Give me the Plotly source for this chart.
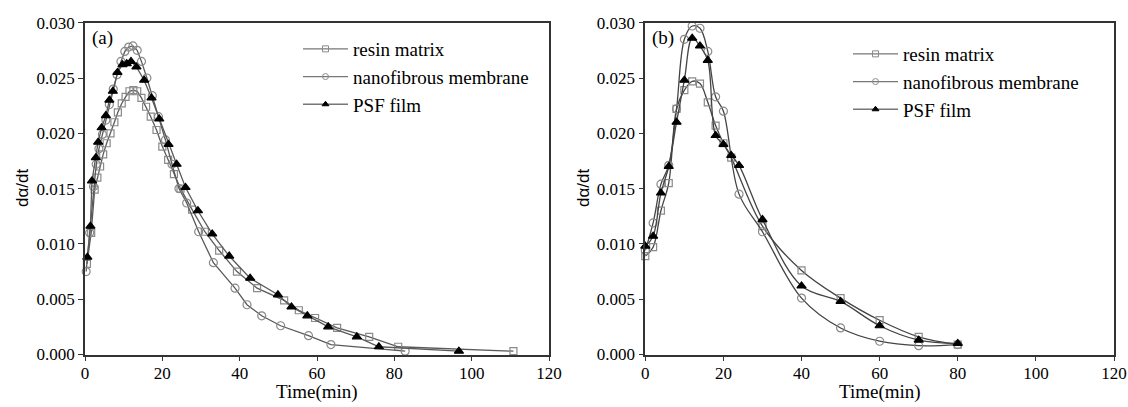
import plotly.graph_objects as go

# ---------------- data : panel (a) ----------------
a_resin_t = [0.5, 1.6, 2.5, 3.2, 3.9, 4.7, 5.6, 6.6, 7.6, 8.5, 9.5, 10.5, 11.5, 12.5, 13.5, 14.6,
             15.8, 17.0, 18.5, 20.0, 21.5, 23.0, 24.7, 27.7, 31.0, 34.7, 39.3, 44.5, 51.5, 55.3,
             59.5, 65.2, 73.5, 81.0, 110.8]
a_resin_v = [0.0082, 0.0110, 0.0149, 0.0160, 0.0170, 0.0181, 0.0191, 0.0200, 0.0210, 0.0219,
             0.0227, 0.0233, 0.0238, 0.0239, 0.0238, 0.0232, 0.0224, 0.0215, 0.0203, 0.0188,
             0.0176, 0.0163, 0.0150, 0.0131, 0.0111, 0.0094, 0.0075, 0.0060, 0.0049, 0.0040,
             0.0033, 0.0024, 0.0016, 0.0007, 0.0003]

a_nano_t = [0.3, 1.2, 2.2, 2.9, 3.6, 4.5, 5.4, 6.3, 7.3, 8.3, 9.3, 10.3, 11.3, 12.4, 13.5, 14.6,
            16.0, 17.4, 19.0, 20.8, 22.5, 24.3, 26.3, 29.4, 33.2, 38.8, 41.9, 45.7, 50.6, 57.8,
            63.6, 82.8]
a_nano_v = [0.0075, 0.0110, 0.0152, 0.0172, 0.0186, 0.0199, 0.0212, 0.0226, 0.0240, 0.0253,
            0.0265, 0.0274, 0.0278, 0.0279, 0.0275, 0.0265, 0.0250, 0.0234, 0.0215, 0.0194,
            0.0172, 0.0150, 0.0137, 0.0111, 0.0083, 0.0060, 0.0045, 0.0035, 0.0026, 0.0017,
            0.0009, 0.0003]

a_psf_t = [0.6, 1.4, 1.8, 2.8, 3.4, 4.3, 5.4, 6.3, 7.2, 8.4, 9.7, 10.8, 11.9, 13.3, 15.3, 17.2,
           19.2, 21.6, 23.7, 26.0, 29.2, 32.9, 37.3, 42.7, 49.9, 53.4, 57.5, 62.9, 70.3, 76.0,
           96.7]
a_psf_v = [0.0088, 0.0116, 0.0157, 0.0178, 0.0192, 0.0205, 0.0216, 0.0230, 0.0238, 0.0255,
           0.0262, 0.0263, 0.0265, 0.0260, 0.0248, 0.0232, 0.0213, 0.0190, 0.0172, 0.0151,
           0.0130, 0.0109, 0.0089, 0.0069, 0.0054, 0.0043, 0.0035, 0.0025, 0.0016, 0.0007,
           0.0003]

# ---------------- data : panel (b) ----------------
b_resin_t = [0, 2, 4, 6, 8, 10, 12, 14, 16, 18, 20, 22, 30, 40, 50, 60, 70, 80]
b_resin_v = [0.0089, 0.0097, 0.0130, 0.0155, 0.0222, 0.0239, 0.0247, 0.0245, 0.0228, 0.0207,
             0.0191, 0.0178, 0.0116, 0.0076, 0.0051, 0.0031, 0.0016, 0.0009]

b_nano_t = [0, 2, 4, 6, 8, 10, 12, 14, 16, 18, 20, 24, 30, 40, 50, 60, 70, 80]
b_nano_v = [0.0094, 0.0119, 0.0154, 0.0171, 0.0222, 0.0285, 0.0297, 0.0295, 0.0274, 0.0233,
            0.0220, 0.0145, 0.0111, 0.0051, 0.0024, 0.0012, 0.0008, 0.0009]

b_psf_t = [0, 2, 4, 6, 8, 10, 12, 14, 16, 18, 20, 22, 24, 30, 40, 50, 60, 70, 80]
b_psf_v = [0.0098, 0.0107, 0.0146, 0.0170, 0.0210, 0.0248, 0.0286, 0.0279, 0.0266, 0.0198,
           0.0190, 0.0180, 0.0171, 0.0122, 0.0062, 0.0048, 0.0026, 0.0013, 0.0010]

series_names = ["resin matrix", "nanofibrous membrane", "PSF film"]
x_ticks = [0, 20, 40, 60, 80, 100, 120]
y_ticks = [0.000, 0.005, 0.010, 0.015, 0.020, 0.025, 0.030]
y_ticklabels = ["0.000", "0.005", "0.010", "0.015", "0.020", "0.025", "0.030"]

# ---------------- styling ----------------
W, H = 1128, 407
SERIF = "Liberation Serif"
SANS = "Liberation Sans"
GRAY_M = "#8a8a8a"
styles = [
    dict(symbol="square-open", color=GRAY_M, size=7),
    dict(symbol="circle-open", color=GRAY_M, size=8),
    dict(symbol="triangle-up", color="black", size=8),
]

fig = go.Figure()

panels = [
    ("x", "y", "legend", "linear", "#5a5a5a",
     [(a_resin_t, a_resin_v), (a_nano_t, a_nano_v), (a_psf_t, a_psf_v)]),
    ("x2", "y2", "legend2", "spline", "#444444",
     [(b_resin_t, b_resin_v), (b_nano_t, b_nano_v), (b_psf_t, b_psf_v)]),
]

for xa, ya, lg, shape, lcol, data in panels:
    for (t, v), st, name in zip(data, styles, series_names):
        fig.add_trace(go.Scatter(
            x=t, y=v, xaxis=xa, yaxis=ya, mode="lines+markers", name=name,
            showlegend=False, line=dict(color=lcol, width=1.3, shape=shape),
            marker=dict(symbol=st["symbol"], size=st["size"], color=st["color"],
                        line=dict(color=st["color"], width=1.2)),
            cliponaxis=False,
        ))
    # legend-only entries (smaller markers, as in the reference legend)
    for st, name in zip(styles, series_names):
        fig.add_trace(go.Scatter(
            x=[None], y=[None], xaxis=xa, yaxis=ya, mode="lines+markers", name=name,
            legend=lg, showlegend=True, line=dict(color="#777777", width=1.3),
            marker=dict(symbol=st["symbol"], size=6, color=st["color"],
                        line=dict(color=st["color"], width=1)),
        ))

y_bot, y_top = 354.5, 22.7
ydom = [(H - y_bot) / H, (H - y_top) / H]
xdom_a = [85 / W, 549 / W]
xdom_b = [645.3 / W, 1114 / W]

axis_common = dict(
    showgrid=False, zeroline=False, showline=True, linecolor="#333333", linewidth=1.6,
    mirror=True, ticks="outside", ticklen=5, tickwidth=1.4, tickcolor="#333333",
    tickfont=dict(family=SERIF, size=17, color="black"), automargin=False,
    ticklabeloverflow="allow",
)

fig.update_layout(
    width=W, height=H, margin=dict(l=0, r=0, t=0, b=0),
    paper_bgcolor="white", plot_bgcolor="white",
    xaxis=dict(domain=xdom_a, range=[0, 120], tickvals=x_ticks, anchor="y",
               ticklabelstandoff=-3, **axis_common),
    yaxis=dict(domain=ydom, range=[0, 0.030], tickvals=y_ticks, ticktext=y_ticklabels,
               anchor="x", **axis_common),
    xaxis2=dict(domain=xdom_b, range=[0, 120], tickvals=x_ticks, anchor="y2",
                ticklabelstandoff=-3, **axis_common),
    yaxis2=dict(domain=ydom, range=[0, 0.030], tickvals=y_ticks, ticktext=y_ticklabels,
                anchor="x2", **axis_common),
    legend=dict(x=298 / W, y=1 - 30 / H, xanchor="left", yanchor="top",
                bgcolor="rgba(0,0,0,0)", font=dict(family=SERIF, size=19, color="black"),
                tracegroupgap=0, itemwidth=45),
    legend2=dict(x=848 / W, y=1 - 35 / H, xanchor="left", yanchor="top",
                 bgcolor="rgba(0,0,0,0)", font=dict(family=SERIF, size=19, color="black"),
                 tracegroupgap=0, itemwidth=45),
    showlegend=True,
)

annots = [
    dict(text="(a)", x=102 / W, y=1 - 38 / H),
    dict(text="(b)", x=663 / W, y=1 - 38 / H),
    dict(text="Time(min)", x=(xdom_a[0] + xdom_a[1]) / 2, y=1 - 392 / H),
    dict(text="Time(min)", x=(xdom_b[0] + xdom_b[1]) / 2, y=1 - 392 / H),
]
for an in annots:
    fig.add_annotation(xref="paper", yref="paper", showarrow=False, xanchor="center",
                       yanchor="middle", font=dict(family=SERIF, size=19, color="black"), **an)
for xp in (22, 583):
    fig.add_annotation(xref="paper", yref="paper", showarrow=False, text="dα/dt",
                       x=xp / W, y=1 - 188 / H, xanchor="center", yanchor="middle",
                       textangle=-90, font=dict(family=SANS, size=17, color="black"))

fig.write_html("out.html")
